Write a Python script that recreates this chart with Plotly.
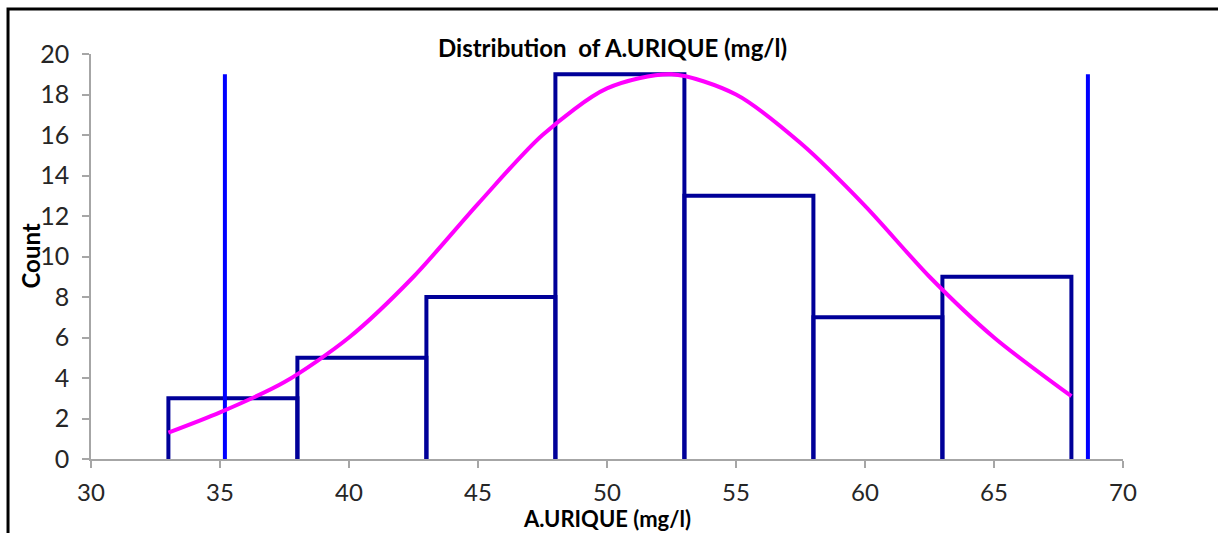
import plotly.graph_objects as go

# Histogram bins (edges) and counts
bin_left = [33, 38, 43, 48, 53, 58, 63]
bin_right = [38, 43, 48, 53, 58, 63, 68]
counts = [3, 5, 8, 19, 13, 7, 9]

# Fitted normal curve
curve_x = [33, 35, 37.5, 40, 42.5, 45, 47.5, 50, 52.5, 55, 57.5, 60, 62.5, 65, 68]
curve_y = [1.3, 2.3, 3.8, 6.0, 9.0, 12.6, 16.0, 18.3, 19.0, 18.0, 15.6, 12.5, 9.0, 6.0, 3.1]

# Vertical reference lines
vline_x = [35.19, 68.64]
vline_top = 19

FONT = "Lato"
TXT = "#262626"

fig = go.Figure()

# histogram outline built from the bin arrays
hx, hy = [], []
for l, r, c in zip(bin_left, bin_right, counts):
    hx += [l, l, r, r, None]
    hy += [0, c, c, 0, None]
fig.add_trace(go.Scatter(x=hx, y=hy, mode="lines",
                         line=dict(color="#000099", width=4),
                         hoverinfo="skip", showlegend=False))

vx, vy = [], []
for v in vline_x:
    vx += [v, v, None]
    vy += [0, vline_top, None]
fig.add_trace(go.Scatter(x=vx, y=vy, mode="lines",
                         line=dict(color="#0000FF", width=4),
                         hoverinfo="skip", showlegend=False))

fig.add_trace(go.Scatter(x=curve_x, y=curve_y, mode="lines",
                         line=dict(color="#FF00FF", width=4, shape="spline", smoothing=0.8),
                         hoverinfo="skip", showlegend=False))

axis_common = dict(showgrid=False, zeroline=False, showline=True,
                   linecolor="#A6A6A6", linewidth=1.5,
                   ticks="outside", ticklen=7, tickcolor="#A6A6A6", tickwidth=1.5)

fig.update_xaxes(range=[30, 70], tickvals=[30, 35, 40, 45, 50, 55, 60, 65, 70],
                 ticklabelstandoff=4, tickfont=dict(family=FONT, size=24, color=TXT),
                 **axis_common)
fig.update_yaxes(range=[0, 20], tickvals=list(range(0, 21, 2)),
                 ticklabelstandoff=8, tickfont=dict(family=FONT, size=25, color=TXT),
                 **axis_common)

fig.update_layout(
    width=1218, height=533,
    margin=dict(l=91, r=95, t=54, b=74),
    paper_bgcolor="white", plot_bgcolor="white",
    showlegend=False,
    annotations=[
        dict(text="<b>Distribution  of A.URIQUE (mg/l)</b>", xref="paper", yref="paper",
             x=0.505, y=1.017, xanchor="center", yanchor="middle", showarrow=False,
             font=dict(family=FONT, size=24, color="black")),
        dict(text="<b>A.URIQUE (mg/l)</b>", xref="paper", yref="paper",
             x=0.5, y=-0.146, xanchor="center", yanchor="middle", showarrow=False,
             font=dict(family=FONT, size=22, color="black")),
        dict(text="<b>Count</b>", xref="paper", yref="paper",
             x=-0.0591, y=0.5, xanchor="center", yanchor="middle", showarrow=False,
             textangle=-90, font=dict(family=FONT, size=24, color="black")),
    ],
    shapes=[
        dict(type="path", xref="paper", yref="paper",
             path="M -0.0804 -0.2 L -0.0804 1.111 L 1.2 1.111",
             line=dict(color="black", width=3)),
    ],
)

fig.write_html("out.html")
